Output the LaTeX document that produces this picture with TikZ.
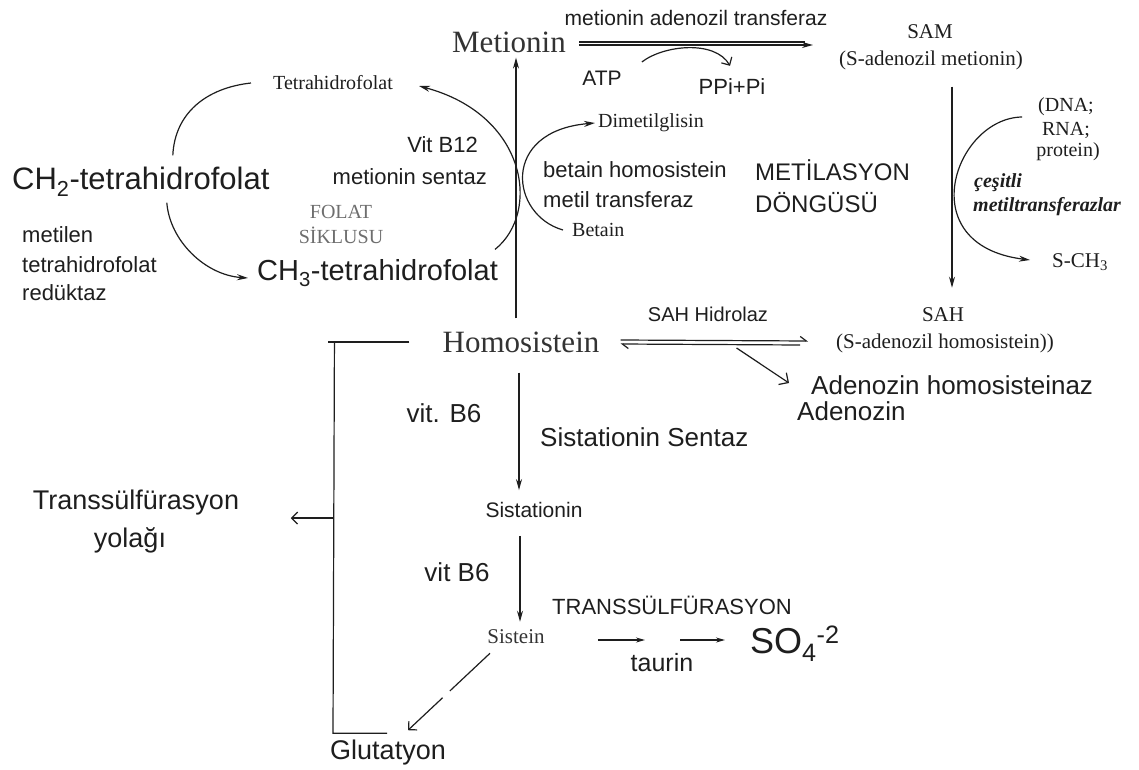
\documentclass[tikz,border=0pt]{standalone}
\usepackage{fontspec}
\setmainfont{Liberation Serif}
\setsansfont{Liberation Sans}
\usetikzlibrary{arrows.meta,calc}
\definecolor{ink}{HTML}{1E1E1E}
\definecolor{ink2}{HTML}{333333}
\definecolor{fol}{HTML}{6E6E6E}
\begin{document}
\begin{tikzpicture}[x=1pt,y=-1pt,
  sfn/.style={inner sep=0pt,text=ink,font=\sffamily\fontsize{#1}{#1}\selectfont},
  rmn/.style={inner sep=0pt,text=ink,font=\rmfamily\fontsize{#1}{#1}\selectfont},
  itn/.style={inner sep=0pt,text=ink,font=\rmfamily\bfseries\itshape\fontsize{#1}{#1}\selectfont},
  ln/.style={draw=ink,line width=1.2pt},
  arr/.style={ln,-{Stealth[length=11pt,width=6pt]}},
  arrs/.style={ln,-{Stealth[length=9pt,width=5pt]}},
  barb/.style={ln,-{Straight Barb[length=6pt,width=12pt]}},
  harp/.style={ln,-{Straight Barb[left,length=6pt,width=9pt]}},
  hook/.style={ln,-{Straight Barb[angle=90:10pt]}}]
\useasboundingbox (0,0) rectangle (1139,770);

% ---------- nodes ----------
\node[rmn=31,text=ink2] (met) at (509,42) {Metionin};
\node[sfn=21] (mat) at (696,18) {metionin adenozil transferaz};
\node[sfn=21] (atp) at (602,78) {ATP};
\node[sfn=22] (ppi) at (732,87) {PPi+Pi};
\node[rmn=21] (sam) at (930,32) {SAM};
\node[rmn=21] (sam2) at (931,60) {(S-adenozil metionin)};
\node[rmn=20] (thf) at (333,83) {Tetrahidrofolat};
\node[sfn=31,anchor=west] (ch2) at (12,182) {CH\textsubscript{2}-tetrahidrofolat};
\node[sfn=22,anchor=west] (mt1) at (22,235) {metilen};
\node[sfn=22,anchor=west] (mt2) at (22,265) {tetrahidrofolat};
\node[sfn=22,anchor=west] (mt3) at (22,293) {redüktaz};
\node[sfn=22,anchor=east] (b12) at (478,145) {Vit B12};
\node[sfn=22,anchor=east] (ms) at (487,177) {metionin sentaz};
\node[rmn=20,text=fol] (fo1) at (341,212) {FOLAT};
\node[rmn=20,text=fol] (fo2) at (341,235) {SİKLUSU};
\node[sfn=29,anchor=west] (ch3) at (257,273) {CH\textsubscript{3}-tetrahidrofolat};
\node[rmn=20,anchor=west] (dmg) at (598,123) {Dimetilglisin};
\node[rmn=20,anchor=west] (bet) at (572,230) {Betain};
\node[sfn=22,anchor=west] (bh1) at (543,170) {betain homosistein};
\node[sfn=22,anchor=west] (bh2) at (543,200) {metil transferaz};
\node[sfn=24,anchor=west] (md1) at (755,170) {METİLASYON};
\node[sfn=24,anchor=west] (md2) at (755,203) {DÖNGÜSÜ};
\node[rmn=20] (dna1) at (1066,107) {(DNA;};
\node[rmn=20] (dna2) at (1066,130) {RNA;};
\node[rmn=20] (dna3) at (1068,152) {protein)};
\node[itn=20,anchor=west] (ces1) at (974,183) {çeşitli};
\node[itn=20,anchor=west] (ces2) at (973,207) {metiltransferazlar};
\node[rmn=21,anchor=west] (sch3) at (1052,262) {S-CH\textsubscript{3}};
\node[rmn=21] (sah) at (943,315) {SAH};
\node[rmn=21] (sah2) at (945,343) {(S-adenozil homosistein))};
\node[rmn=31,text=ink2] (homo) at (521,342) {Homosistein};
\node[sfn=20] (sahh) at (708,314) {SAH Hidrolaz};
\node[sfn=26,anchor=west] (adh) at (811,385) {Adenozin homosisteinaz};
\node[sfn=26,anchor=west] (aden) at (797,411) {Adenozin};
\node[sfn=26] (vb6a) at (444,413) {vit. B6};
\node[sfn=26,anchor=west] (sss) at (540,437) {Sistationin Sentaz};
\node[sfn=21] (sist) at (534,510) {Sistationin};
\node[sfn=27] (tr1) at (136,503) {Transsülfürasyon};
\node[sfn=27] (tr2) at (130,540) {yolağı};
\node[sfn=26] (vb6b) at (457,572) {vit B6};
\node[sfn=22,anchor=west] (TR) at (552,605) {TRANSSÜLFÜRASYON};
\node[rmn=21,text=ink2] (sis) at (516,637) {Sistein};
\node[sfn=25] (tau) at (662,663) {taurin};
\node[sfn=36,anchor=base west] (so4) at (750,653) {SO\textsubscript{4}\textsuperscript{-2}};
\node[sfn=27] (glut) at (388,753) {Glutatyon};

% ---------- connectors ----------
% Homosistein -> Metionin
\draw[arr] ($(homo.north)+(-5,-13)$) -- ($(met.south)+(7,5)$);
% Metionin -> SAM (double line)
\draw[ln] ($(met.east)+(13,0)$) -- ($(sam2.west |- met.east)+(-34,0)$);
\draw[arr] ($(met.east)+(13,3)$) -- ($(sam2.west |- met.east)+(-26,3)$);
% ATP -> PPi+Pi
\draw[barb] ($(atp.east)+(20,-16)$) .. controls +(22,-17) and +(-15,-26) .. ($(ppi.north)+(-2,-13)$);
% CH3-THF -> THF
\draw[arr] ($(ch3.north east)+(-3,-10)$) .. controls +(46,-37) and +(108,29) .. ($(thf.east)+(26,3)$);
% THF -> CH2-THF
\draw[ln] ($(thf.west)+(-22,0)$) .. controls +(-45,5) and +(2,-42) .. ($(ch2.north)+(32,-12)$);
% CH2-THF -> CH3-THF
\draw[arr] ($(ch2.south)+(26,6)$) .. controls +(3,38) and +(-43,-3) .. ($(ch3.west)+(-9,5)$);
% Betain -> Dimetilglisin
\draw[arr] ($(bet.west)+(-9,0)$) .. controls +(-53,-15) and +(-95,8) .. ($(dmg.west)+(-3,0)$);
% SAM -> SAH
\draw[arr] ($(sam2.south)+(21,17)$) -- ($(sah.north)+(9,-20)$);
% DNA -> S-CH3
\draw[arr] ($(dna1.west)+(-16,10)$) .. controls +(-67,1) and +(-120,-15) .. ($(sch3.west)+(-22,-2)$);
% Homosistein <=> SAH
\draw[harp] ($(homo.east)+(21,-2)$) -- ($(sah2.west)+(-28,-2)$);
\draw[harp] ($(sah2.west)+(-36,2)$) -- ($(homo.east)+(21,2)$);
% branch -> Adenozin
\draw[hook] ($(homo.east)+(137,6)$) -- ($(adh.west)+(-22,-2)$);
% Homosistein -> Sistationin
\draw[arr] ($(homo.south)+(-2,20)$) -- ($(sist.north)+(-15,-12)$);
% Sistationin -> Sistein
\draw[arr] ($(sist.south)+(-14,18)$) -- ($(sis.north)+(4,-8)$);
% Sistein -> taurin -> SO4
\draw[arrs] ($(sis.east)+(53,3)$) -- ($(so4.base west)+(-105,-13)$);
\draw[arrs] ($(so4.base west)+(-70,-13)$) -- ($(so4.base west)+(-25,-13)$);
% Sistein -> Glutatyon
\draw[barb,dash pattern=on 55pt off 10pt] ($(sis.south)+(-26,9)$) -- ($(glut.north)+(20,-10)$);
% bracket
\coordinate (bl) at ($(homo.west)+(-108,0)$);
\coordinate (bb) at ($(glut.north)+(-55,-7)$);
\draw[ln] ($(homo.west)+(-33,0)$) -- ($(homo.west)+(-114,0)$);
\draw[ln] (bl) -- (bb) -- ($(glut.north)+(-1,-7)$);
\coordinate (bm) at ($(bl)!0.45!(bb)$);
\draw[barb] (bm) -- ($(bm)+(-43,0)$);
\end{tikzpicture}
\end{document}
